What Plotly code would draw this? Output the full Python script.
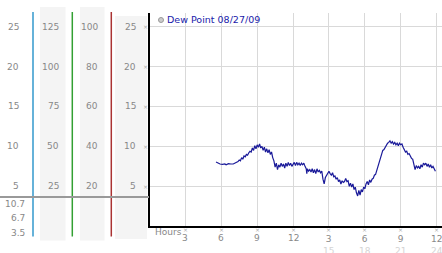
import plotly.graph_objects as go

W, H = 442, 253

# ---- data ----
hours = [5.56, 5.7, 5.9, 6.1, 6.3, 6.4, 6.6, 6.8, 7.0, 7.2, 7.4, 7.5, 7.6, 7.7, 7.8, 7.9, 8.0, 8.1, 8.2, 8.3,
         8.4, 8.5, 8.6, 8.7, 8.8, 8.9, 9.0, 9.1, 9.2, 9.3, 9.4, 9.5, 9.6, 9.7, 9.8, 9.9, 10.0, 10.1, 10.2, 10.3,
         10.4, 10.5, 10.6, 10.7, 10.8, 10.9, 11.0, 11.1, 11.2, 11.3, 11.4, 11.5, 11.6, 11.7, 11.8, 11.9, 12.0,
         12.1, 12.2, 12.3, 12.4, 12.5, 12.6, 12.7, 12.8, 12.9, 13.0, 13.1, 13.15, 13.2, 13.3, 13.4, 13.5, 13.6,
         13.7, 13.8, 13.9, 14.0, 14.1, 14.2, 14.3, 14.4, 14.5, 14.6, 14.7, 14.8, 14.9, 15.0, 15.1, 15.2, 15.3,
         15.4, 15.5, 15.6, 15.7, 15.8, 15.9, 16.0, 16.1, 16.2, 16.3, 16.4, 16.5, 16.6, 16.7, 16.8, 16.9, 17.0,
         17.1, 17.2, 17.3, 17.4, 17.5, 17.6, 17.7, 17.8, 17.9, 18.0, 18.1, 18.2, 18.3, 18.4, 18.5, 18.6, 18.7,
         18.8, 18.9, 19.0, 19.1, 19.2, 19.3, 19.4, 19.5, 19.6, 19.7, 19.8, 19.9, 20.0, 20.1, 20.2, 20.3, 20.4,
         20.5, 20.6, 20.7, 20.8, 20.9, 21.0, 21.1, 21.2, 21.3, 21.4, 21.5, 21.6, 21.7, 21.8, 21.9, 22.0, 22.1,
         22.2, 22.3, 22.4, 22.5, 22.6, 22.7, 22.8, 22.9, 23.0, 23.1, 23.2, 23.3, 23.4, 23.5, 23.6, 23.7, 23.8, 23.9]
dew_point = [8.05, 7.9, 7.8, 7.75, 7.8, 7.7, 7.85, 7.8, 7.8, 7.95, 8.1, 8.3, 8.2, 8.6, 8.4, 8.8, 8.7, 9.0, 8.9, 9.2,
             9.4, 9.3, 9.8, 9.5, 10.1, 9.7, 10.2, 9.9, 10.3, 9.8, 10.0, 9.5, 9.9, 9.3, 9.7, 9.2, 9.6, 9.0, 9.3, 8.6,
             8.2, 7.4, 7.9, 7.1, 7.7, 7.4, 7.9, 7.5, 7.8, 7.3, 7.9, 7.5, 8.0, 7.6, 7.9, 7.5, 7.8,
             8.0, 7.6, 8.0, 7.7, 7.9, 7.6, 7.9, 7.7, 7.9, 7.5, 7.2, 6.6, 7.2, 6.9, 7.1, 6.8, 7.2,
             6.7, 7.1, 6.6, 7.2, 6.8, 7.0, 6.7, 6.9, 5.9, 5.3, 6.1, 6.4, 6.7, 6.9, 6.6, 6.4, 6.7,
             6.2, 6.3, 5.9, 6.1, 5.6, 5.8, 5.3, 5.7, 5.5, 5.6, 6.0, 5.6, 5.7, 5.0, 5.4, 4.9, 5.3,
             4.6, 4.9, 4.2, 3.8, 4.5, 3.9, 4.6, 4.3, 4.9, 4.7, 5.3, 5.6, 5.2, 5.8, 5.5, 5.9, 6.0,
             6.4, 6.5, 7.0, 7.5, 8.2, 8.8, 9.2, 9.5, 9.6, 9.9, 10.1, 10.4, 10.5, 10.7, 10.4, 10.6, 10.3,
             10.5, 10.2, 10.4, 10.1, 10.4, 10.2, 10.3, 9.9, 9.6, 9.3, 9.4, 9.0, 9.1, 8.7, 8.5, 8.4, 7.8,
             7.1, 7.6, 7.3, 7.5, 7.2, 7.7, 7.4, 7.9, 7.7, 7.9, 7.5, 7.8, 7.4, 7.7, 7.3, 7.5, 7.1, 6.9]

series_name = "Dew Point 08/27/09"
x_tick_hours = [3, 6, 9, 12, 15, 18, 21, 24]
x_tick_labels = ["3", "6", "9", "12", "3", "6", "9", "12"]
x_tick_labels2 = ["", "", "", "", "15", "18", "21", "24"]
y_ticks = [25, 20, 15, 10, 5]
col1_labels = ["25", "20", "15", "10", "5"]
col2_labels = ["125", "100", "75", "50", "25"]
col3_labels = ["100", "80", "60", "40", "20"]
col4_labels = ["25", "20", "15", "10", "5"]
extra_labels = ["10.7", "6.7", "3.5"]

FONT = "DejaVu Sans"
TXT = "#888888"


def px(x):
    return x / W


def py(y):
    return 1 - y / H


fig = go.Figure()
fig.add_trace(go.Scatter(x=hours, y=dew_point, mode="lines",
                         line=dict(color="#1a1a99", width=1.2), showlegend=False,
                         hoverinfo="skip"))

shapes = []
# gray column backgrounds
for x0, x1, y0, y1 in [(40, 65.5, 7, 240.5), (80, 104.5, 7, 240.5), (115, 147, 16, 239)]:
    shapes.append(dict(type="rect", xref="paper", yref="paper", x0=px(x0), x1=px(x1),
                       y0=py(y1), y1=py(y0), fillcolor="#f4f4f4", line=dict(width=0), layer="below"))
# coloured vertical lines
for xx, col in [(33, "#3399cc"), (72.3, "#33a033"), (111.3, "#aa3333")]:
    shapes.append(dict(type="line", xref="paper", yref="paper", x0=px(xx), x1=px(xx),
                       y0=py(236.5), y1=py(12), line=dict(color=col, width=1.5)))
# horizontal separator
shapes.append(dict(type="line", xref="paper", yref="paper", x0=0, x1=px(149),
                   y0=py(197), y1=py(197), line=dict(color="#999999", width=2)))
# legend dot
shapes.append(dict(type="circle", xref="paper", yref="paper", x0=px(158.5), x1=px(163.5),
                   y0=py(22.5), y1=py(17.5), fillcolor="#cccccc", line=dict(color="#999999", width=1)))

ann = []
f = dict(family=FONT, size=9, color=TXT)
for v, a, b, c, d in zip(y_ticks, col1_labels, col2_labels, col3_labels, col4_labels):
    for xr, t in [(20.5, a), (60.5, b), (99.5, c), (137.5, d)]:
        ann.append(dict(x=px(xr), y=v, xref="paper", yref="y", text=t, showarrow=False,
                        xanchor="right", yanchor="middle", font=f))
    ann.append(dict(x=px(145), y=v, xref="paper", yref="y", text="×", showarrow=False,
                    xanchor="center", yanchor="middle", font=dict(family=FONT, size=6, color="#aaaaaa")))
for yy, t in zip([204, 218, 232.5], extra_labels):
    ann.append(dict(x=px(26.5), y=py(yy), xref="paper", yref="paper", text=t, showarrow=False,
                    xanchor="right", yanchor="middle", font=f))
for h, t1, t2 in zip(x_tick_hours, x_tick_labels, x_tick_labels2):
    ann.append(dict(x=h, y=py(229.5), xref="x", yref="paper", text="×", showarrow=False,
                    xanchor="center", yanchor="middle", font=dict(family=FONT, size=6, color="#aaaaaa")))
    if t2:
        ann.append(dict(x=h, y=py(231.5), xref="x", yref="paper",
                        text=t1 + "<br><span style='color:#d4d4d4'>" + t2 + "</span>",
                        showarrow=False, xanchor="center", yanchor="top",
                        font=dict(family=FONT, size=9, color=TXT)))
    else:
        ann.append(dict(x=h, y=py(238), xref="x", yref="paper", text=t1, showarrow=False,
                        xanchor="center", yanchor="middle", font=dict(family=FONT, size=9, color=TXT)))
ann.append(dict(x=px(152.5), y=py(232), xref="paper", yref="paper", text="Hours", showarrow=False,
                xanchor="left", yanchor="middle", font=dict(family=FONT, size=9, color=TXT)))
ann.append(dict(x=px(164.5), y=py(20), xref="paper", yref="paper", text=series_name, showarrow=False,
                xanchor="left", yanchor="middle", font=dict(family=FONT, size=9.5, color="#1a1aaa")))

fig.update_layout(
    width=W, height=H, margin=dict(l=0, r=0, t=0, b=0),
    paper_bgcolor="white", plot_bgcolor="white",
    shapes=shapes, annotations=ann,
    xaxis=dict(domain=[px(149.5), 1], range=[0, 24.45], tickvals=x_tick_hours, showticklabels=False,
               showgrid=True, gridcolor="#d9d9d9", gridwidth=1, zeroline=False,
               showline=True, linecolor="black", linewidth=2, ticks=""),
    yaxis=dict(domain=[py(225.5), py(13)], range=[0.1, 26.7], tickvals=y_ticks, showticklabels=False,
               showgrid=True, gridcolor="#d9d9d9", gridwidth=1, zeroline=False,
               showline=True, linecolor="black", linewidth=2, ticks=""),
)
fig.write_html("out.html")
